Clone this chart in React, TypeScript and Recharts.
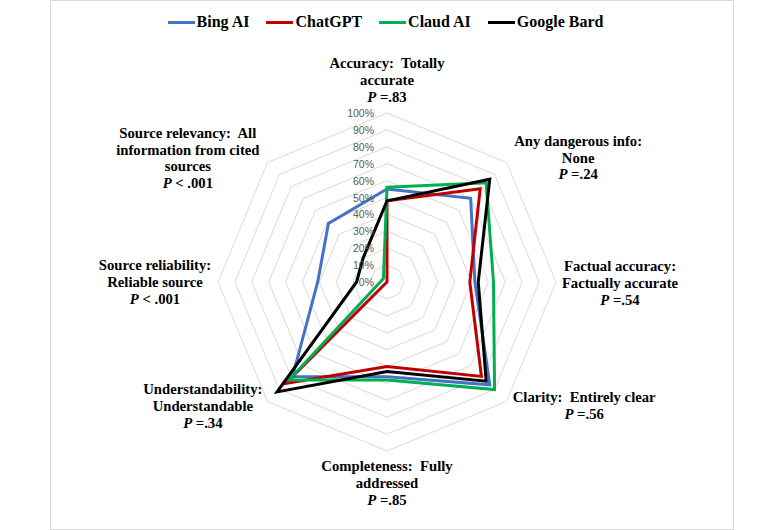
import React from "react";
import { RadarChart, Radar, PolarGrid, PolarAngleAxis, PolarRadiusAxis, Legend } from "recharts";

// axis categories, clockwise from the top
const axes = [
  "Accuracy",
  "Dangerous info",
  "Factual accuracy",
  "Clarity",
  "Completeness",
  "Understandability",
  "Source reliability",
  "Source relevancy",
];

const axisLines = [
  ["Accuracy:  Totally", "accurate"],
  ["Any dangerous info:", "None"],
  ["Factual accuracy:", "Factually accurate"],
  ["Clarity:  Entirely clear"],
  ["Completeness:  Fully", "addressed"],
  ["Understandability:", "Understandable"],
  ["Source reliability:", "Reliable source"],
  ["Source relevancy:  All", "information from cited", "sources"],
];

const pValues = ["=.83", "=.24", "=.54", "=.56", "=.85", "=.34", "< .001", "< .001"];

// percent of responses
const bing = [55, 70, 52, 86, 56, 79, 41, 49];
const chatgpt = [48, 78, 49, 79, 50, 85, 0, 0];
const claude = [56, 83, 63, 90, 58, 82, 4, 3];
const bard = [48, 86, 54, 83, 53, 92, 18, 20];

const radiusTicks = [0, 10, 20, 30, 40, 50, 60, 70, 80, 90, 100];

const series = [
  { key: "bing", name: "Bing AI", color: "#4472C4" },
  { key: "chatgpt", name: "ChatGPT", color: "#C00000" },
  { key: "claude", name: "Claud AI", color: "#00B050" },
  { key: "bard", name: "Google Bard", color: "#000000" },
];

const data = axes.map((axis, i) => ({
  axis,
  bing: bing[i],
  chatgpt: chatgpt[i],
  claude: claude[i],
  bard: bard[i],
}));

// label block offsets from the tick point: [dx of centre, dy of first line]
const labelOffset: [number, number][] = [
  [0, -42],
  [66, -16],
  [56, -16],
  [72, -10],
  [0, 7],
  [-59, -18],
  [-55, -17],
  [-74, -24],
];

const serif = "'Times New Roman', 'Liberation Serif', serif";
const lh = 16.8;

const labelStyle: React.CSSProperties = {
  fontFamily: serif,
  fontWeight: 700,
  fontSize: 14.7,
  whiteSpace: "pre",
};

const AngleTick = (props: any) => {
  const { x, y, payload } = props;
  const i = axes.indexOf(payload.value);
  if (i < 0) return null;
  const [dx, dy] = labelOffset[i];
  const lines = axisLines[i];
  const cx = x + dx;
  return (
    <g>
      {lines.map((l, k) => (
        <text key={k} x={cx} y={y + dy + k * lh} textAnchor="middle" dominantBaseline="central" fill="#000" style={labelStyle}>
          {l}
        </text>
      ))}
      <text x={cx} y={y + dy + lines.length * lh} textAnchor="middle" dominantBaseline="central" fill="#000" style={labelStyle}>
        <tspan style={{ fontStyle: "italic" }}>P</tspan>
        <tspan>{" " + pValues[i]}</tspan>
      </text>
    </g>
  );
};

const RadiusTick = (props: any) => {
  const { x, y, payload } = props;
  return (
    <text
      x={x - 13}
      y={y}
      textAnchor="end"
      dominantBaseline="central"
      fill="#595959"
      style={{ fontFamily: "'Liberation Sans', Arial, sans-serif", fontSize: 10.5 }}
    >
      {payload.value + "%"}
    </text>
  );
};

const LegendContent = () => (
  <div style={{ display: "flex", justifyContent: "center", alignItems: "center", gap: 17, marginLeft: -2 }}>
    {series.map((s) => (
      <div key={s.key} style={{ display: "flex", alignItems: "center" }}>
        <div style={{ width: 27, height: 3, background: s.color, marginRight: 2 }} />
        <span style={{ fontFamily: serif, fontWeight: "bold", fontSize: 16, color: "#000" }}>{s.name}</span>
      </div>
    ))}
  </div>
);

export default function App() {
  return (
    <div style={{ position: "absolute", left: 0, top: 0, width: 773, height: 530, background: "#fff" }}>
      <div
        style={{
          position: "absolute",
          left: 50,
          top: 0,
          width: 682,
          height: 528,
          border: "1px solid #d9d9d9",
        }}
      />
      <div style={{ position: "absolute", left: 0, top: 0 }}>
        <RadarChart width={773} height={530} data={data} cx={387} cy={282} outerRadius={169} startAngle={90} endAngle={-270}>
          <PolarGrid gridType="polygon" radialLines={false} stroke="#d9d9d9" strokeWidth={1} />
          <PolarAngleAxis dataKey="axis" tick={<AngleTick />} tickLine={false} axisLine={false} />
          <PolarRadiusAxis
            angle={90}
            domain={[0, 100]}
            ticks={radiusTicks as any}
            tickCount={11}
            axisLine={false}
            tick={<RadiusTick />}
          />
          {series.map((s) => (
            <Radar
              key={s.key}
              name={s.name}
              dataKey={s.key}
              stroke={s.color}
              strokeWidth={3}
              fill="none"
              fillOpacity={0}
              dot={false}
              isAnimationActive={false}
            />
          ))}
          <Legend verticalAlign="top" align="center" content={<LegendContent />} wrapperStyle={{ top: 13, left: 0, width: 773 }} />
        </RadarChart>
      </div>
    </div>
  );
}
